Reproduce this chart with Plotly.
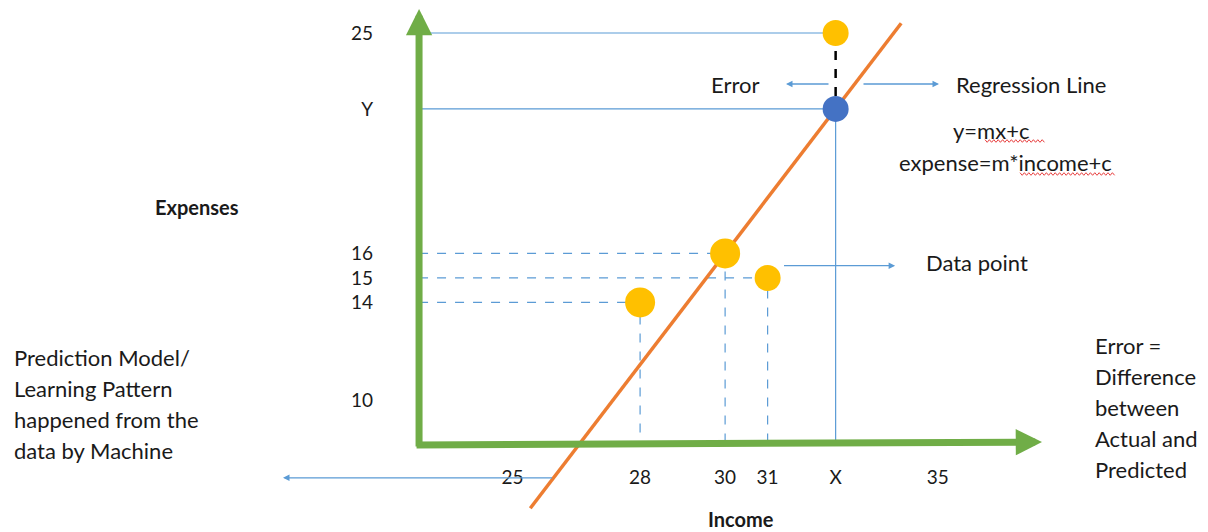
import plotly.graph_objects as go
import numpy as np

# the page adds an 8px body margin, so the figure is 8px smaller than the window
OFF = 8
W, H = 1208 - OFF, 532 - OFF

# ---------------- data ----------------
income = [28, 30, 31]            # observed data points (x)
expense = [14, 16, 15]           # observed data points (y)
point_sizes = [30, 30, 26]
X_VAL = 32.6                     # the "X" income
Y_VAL = 21.9                     # predicted expense "Y"
ACTUAL = 25                      # actual expense at X
x_tick_vals = [25, 28, 30, 31, X_VAL, 35]
x_tick_text = ["25", "28", "30", "31", "X", "35"]
y_tick_vals = [10, 14, 15, 16, Y_VAL, 25]
y_tick_text = ["10", "14", "15", "16", "Y", "25"]
ORIGIN_X, ORIGIN_Y = 22.8, 8.18  # where the two drawn axes meet
REG_Y_ENDS = [5.6, 25.4]         # vertical extent of the regression line

# regression line y = m x + c through (30,16) and (X,Y)
m = (Y_VAL - 16) / (X_VAL - 30)
c = 16 - m * 30

X_RANGE = [13.13, 41.36]
Y_RANGE = [4.63, 26.02]

GREEN = "#70AD47"
BLUE = "#5B9BD5"
ORANGE = "#ED7D31"
YELLOW = "#FFC000"
DARKBLUE = "#4472C4"
FONT = "Lato"
TXT = "#1a1a1a"
FS = 22


def paper(xp, yp):
    """reference-picture pixel -> paper fraction"""
    return (xp - OFF) / W, 1 - (yp - OFF) / H


fig = go.Figure()

# dashed guides for each observed point
for xi, yi in zip(income, expense):
    fig.add_trace(go.Scatter(x=[ORIGIN_X, xi, xi], y=[yi, yi, ORIGIN_Y], mode="lines",
                             line=dict(color=BLUE, width=1.2, dash="dash"), hoverinfo="skip"))

# solid guides for actual and predicted
fig.add_trace(go.Scatter(x=[ORIGIN_X, X_VAL], y=[ACTUAL, ACTUAL], mode="lines",
                         line=dict(color=BLUE, width=1.2), hoverinfo="skip"))
fig.add_trace(go.Scatter(x=[ORIGIN_X, X_VAL, X_VAL], y=[Y_VAL, Y_VAL, ORIGIN_Y], mode="lines",
                         line=dict(color=BLUE, width=1.2), hoverinfo="skip"))

# error segment
fig.add_trace(go.Scatter(x=[X_VAL, X_VAL], y=[ACTUAL, Y_VAL], mode="lines",
                         line=dict(color="black", width=2.5, dash="dash"), hoverinfo="skip"))

# regression line
reg_y = np.array(REG_Y_ENDS)
reg_x = (reg_y - c) / m
fig.add_trace(go.Scatter(x=reg_x, y=reg_y, mode="lines",
                         line=dict(color=ORANGE, width=3.5), hoverinfo="skip"))

# points
fig.add_trace(go.Scatter(x=income, y=expense, mode="markers",
                         marker=dict(color=YELLOW, size=point_sizes, opacity=1, line=dict(width=0))))
fig.add_trace(go.Scatter(x=[X_VAL], y=[ACTUAL], mode="markers",
                         marker=dict(color=YELLOW, size=26, opacity=1, line=dict(width=0))))
fig.add_trace(go.Scatter(x=[X_VAL], y=[Y_VAL], mode="markers",
                         marker=dict(color=DARKBLUE, size=26, opacity=1, line=dict(width=0))))

ox = (ORIGIN_X - X_RANGE[0]) / (X_RANGE[1] - X_RANGE[0])
oy = (ORIGIN_Y - Y_RANGE[0]) / (Y_RANGE[1] - Y_RANGE[0])
ox_ref = ox * W + OFF
oy_ref = (1 - oy) * H + OFF

ann = []


def arrow(tail, head, color=BLUE, width=1.3, size=1.0, style=2):
    hx, hy = paper(*head)
    ann.append(dict(x=hx, y=hy, xref="paper", yref="paper", text="", showarrow=True,
                    ax=tail[0] - head[0], ay=tail[1] - head[1], axref="pixel", ayref="pixel",
                    arrowhead=style, arrowsize=size, arrowwidth=width, arrowcolor=color,
                    standoff=0))


# green axes
arrow((ox_ref, oy_ref + 3), (ox_ref, 8), color=GREEN, width=7, size=0.75)
arrow((ox_ref - 4, oy_ref), (1042, oy_ref - 3), color=GREEN, width=7, size=0.75)

# small blue arrows
arrow((830, 84), (786, 84))
arrow((862, 84), (939, 84))
# arrow from the data point (31,15) towards its label
ann.append(dict(x=34.0, y=15.5, xref="x", yref="y", ax=31.35, ay=15.5, axref="x", ayref="y",
                text="", showarrow=True, arrowhead=2, arrowsize=1.0, arrowwidth=1.3,
                arrowcolor=BLUE, standoff=0))
# arrow from regression line toward the left text
ty = 6.84
tx = (ty - c) / m
ann.append(dict(x=19.6, y=ty, xref="x", yref="y", ax=tx, ay=ty, axref="x", ayref="y",
                text="", showarrow=True, arrowhead=2, arrowsize=1.0, arrowwidth=1.3,
                arrowcolor=BLUE, standoff=0))


def label(text, xp, yp, size=FS, xanchor="center", bold=False):
    px_, py_ = paper(xp, yp)
    ann.append(dict(x=px_, y=py_, xref="paper", yref="paper", text=f"<b>{text}</b>" if bold else text,
                    showarrow=False, xanchor=xanchor, yanchor="middle",
                    font=dict(family=FONT, size=size, color=TXT)))


label("Error", 735, 84)
label("Regression Line", 1031, 84)
label("y=mx+c", 991, 130)
label("expense=m*income+c", 1005, 162)
label("Data point", 977, 262)
label("Expenses", 197, 207, size=20, bold=True)
label("Income", 741, 519, size=20, bold=True)
for i, t in enumerate(["Prediction Model/", "Learning Pattern", "happened from the", "data by Machine"]):
    label(t, 12, 357 + i * 31.3, xanchor="left")
for i, t in enumerate(["Error =", "Difference", "between", "Actual and", "Predicted"]):
    label(t, 1093, 345 + i * 31, xanchor="left")


# red spell-check squiggles under "mx+c" and "income+c"
def squiggle(x0, x1, yc, step=2.2, amp=1.3):
    pts = []
    k = 0
    xv = x0
    while xv <= x1:
        px_, py_ = paper(xv, yc + (amp if k % 2 else -amp))
        pts.append(f"{px_:.5f},{py_:.5f}")
        xv += step
        k += 1
    return dict(type="path", xref="paper", yref="paper", path="M" + " L".join(pts),
                line=dict(color="#E84040", width=1))


shapes = [squiggle(985, 1046, 141), squiggle(1020, 1116, 174)]

fig.update_layout(
    width=W, height=H, margin=dict(l=0, r=0, t=0, b=0),
    paper_bgcolor="white", plot_bgcolor="white", showlegend=False,
    annotations=ann, shapes=shapes,
    xaxis=dict(range=X_RANGE, anchor="free", position=oy, side="bottom",
               tickvals=x_tick_vals, ticktext=x_tick_text, showgrid=False, zeroline=False,
               showline=False, ticks="", ticklabelstandoff=19,
               tickfont=dict(family=FONT, size=19, color=TXT), fixedrange=True),
    yaxis=dict(range=Y_RANGE, anchor="free", position=ox, side="left",
               tickvals=y_tick_vals, ticktext=y_tick_text, showgrid=False, zeroline=False,
               showline=False, ticks="", ticklabelstandoff=46,
               tickfont=dict(family=FONT, size=19, color=TXT), fixedrange=True),
)

fig.write_html("out.html")
